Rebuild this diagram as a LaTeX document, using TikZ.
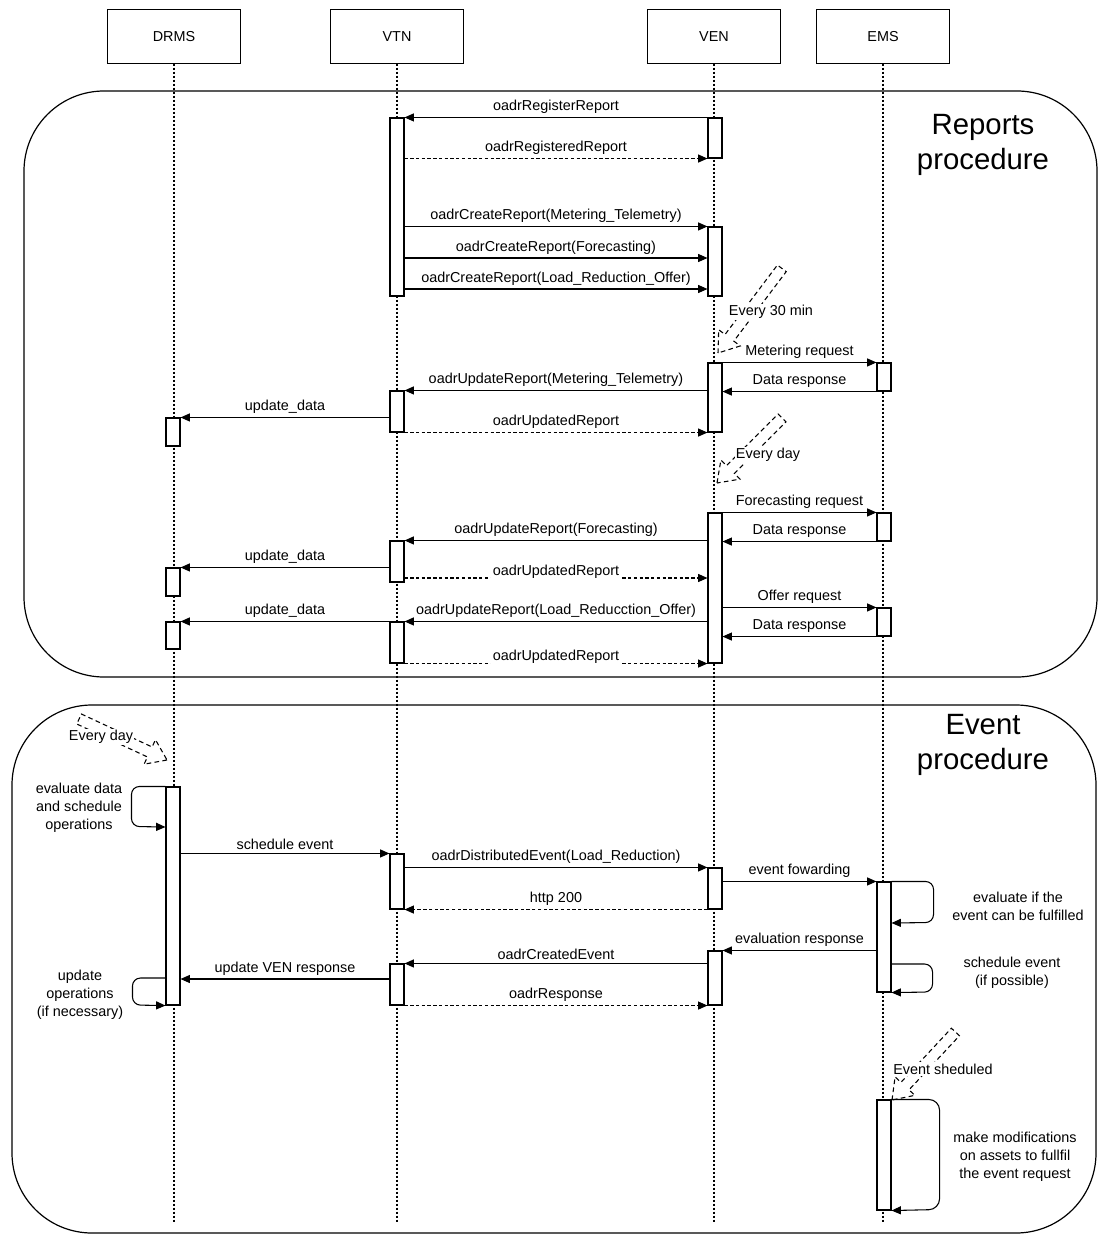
\documentclass[tikz,border=0pt]{standalone}
\usepackage{fontspec}
\setmainfont{Liberation Sans}
\usetikzlibrary{arrows.meta,fit}

\tikzset{
	actor/.style={draw, line width=0.8pt, minimum width=100pt, minimum height=40pt},
	lifeline/.style={line width=0.9pt, dash pattern=on 1.5pt off 1.5pt},
	frame/.style={line width=0.9pt, rounded corners=60pt},
	actbar/.style={draw, fill=white, line width=0.8pt, inner sep=0pt},
	msg/.style={line width=0.8pt, -{Triangle[length=7pt,width=6pt]}},
	ret/.style={msg, dash pattern=on 2.5pt off 1.8pt},
	lbl/.style={midway, above, inner sep=2.5pt},
	lblon/.style={midway, fill=white, inner sep=1pt, yshift=5pt},
	note/.style={fill=white, inner sep=1pt},
	loopnote/.style={align=center},
	title/.style={align=center, font=\fontsize{22}{26}\selectfont}
}

\newcommand{\fatarr}[3]{%
	\draw[line width=0.8pt, dash pattern=on 3.5pt off 2.5pt, shift={#1}, rotate=#2]
	(0,0) -- (-19,13.5) -- (-19,5.5) -- (-#3,5.5) -- (-#3,-5.5) -- (-19,-5.5) -- (-19,-13.5) -- cycle;}

\begin{document}
\begin{tikzpicture}[x=0.75pt, y=-0.75pt, font=\fontsize{10.8}{13.5}\selectfont]
		\useasboundingbox (0,0) rectangle (1100,1234);
		
		\draw[frame] (24,91) rectangle (1097,677);
		\draw[frame] (12,705) rectangle (1096,1233);
		\node[title] (rtitle) at (983,145) {Reports\\procedure};
		\node[title] (etitle) at (983,745) {Event\\procedure};
		
		\node[actor] (drms) at (174,36.5) {DRMS};
		\node[actor] (vtn) at (397,36.5) {VTN};
		\node[actor] (ven) at (714,36.5) {VEN};
		\node[actor] (ems) at (883,36.5) {EMS};
		\draw[lifeline] (drms.south) -- ++(0,1159);
		\draw[lifeline] (vtn.south) -- ++(0,1159);
		\draw[lifeline] (ven.south) -- ++(0,1159);
		\draw[lifeline] (ems.south) -- ++(0,1159);
		
		\node[actbar, fit={(390,118) (404,296)}] (vtnA) {};
		\node[actbar, fit={(390,391) (404,432)}] (vtnB) {};
		\node[actbar, fit={(390,541) (404,582)}] (vtnC) {};
		\node[actbar, fit={(390,622) (404,663)}] (vtnD) {};
		\node[actbar, fit={(390,854) (404,909)}] (vtnE) {};
		\node[actbar, fit={(390,964) (404,1005)}] (vtnF) {};
		\node[actbar, fit={(708,118) (722,158)}] (venA) {};
		\node[actbar, fit={(708,227) (722,296)}] (venB) {};
		\node[actbar, fit={(708,363) (722,432)}] (venC) {};
		\node[actbar, fit={(708,513) (722,663)}] (venD) {};
		\node[actbar, fit={(708,868) (722,909)}] (venE) {};
		\node[actbar, fit={(708,951) (722,1005)}] (venF) {};
		\node[actbar, fit={(877,363) (891,391)}] (emsA) {};
		\node[actbar, fit={(877,513) (891,541)}] (emsB) {};
		\node[actbar, fit={(877,608) (891,636)}] (emsC) {};
		\node[actbar, fit={(877,882) (891,992)}] (emsD) {};
		\node[actbar, fit={(877,1100) (891,1210)}] (emsE) {};
		\node[actbar, fit={(166,418) (180,446)}] (drmsA) {};
		\node[actbar, fit={(166,568) (180,596)}] (drmsB) {};
		\node[actbar, fit={(166,622) (180,649)}] (drmsC) {};
		\node[actbar, fit={(166,787) (180,1005)}] (drmsD) {};
		
		\draw[msg] (venA.north west) -- (vtnA.north east) node[lbl] {oadrRegisterReport};
		\draw[ret] (vtnA.east |- venA.south) -- (venA.south west) node[lbl] {oadrRegisteredReport};
		\draw[msg] (vtnA.east |- venB.north) -- (venB.north west) node[lbl] {oadrCreateReport(Metering\_Telemetry)};
		\draw[msg] (vtnA.east |- 0,258) -- (venB.west |- 0,258) node[lbl] {oadrCreateReport(Forecasting)};
		\draw[msg] (vtnA.east |- 0,289) -- (venB.west |- 0,289) node[lbl] {oadrCreateReport(Load\_Reduction\_Offer)};
		
		\fatarr{(718,353)}{233}{106}
		\node[note] (every30) at (771,312) {Every 30 min};
		\draw[msg] (venC.north east) -- (emsA.north west) node[lbl] {Metering request};
		\draw[msg] (emsA.south west) -- (venC.east |- emsA.south) node[lbl] {Data response};
		\draw[msg] (venC.west |- vtnB.north) -- (vtnB.north east) node[lbl] {oadrUpdateReport(Metering\_Telemetry)};
		\draw[msg] (vtnB.west |- drmsA.north) -- (drmsA.north east) node[lbl] {update\_data};
		\draw[ret] (vtnB.south east) -- (venC.south west) node[lbl] {oadrUpdatedReport};
		
		\fatarr{(717,483)}{225}{92}
		\node[note] (everyday1) at (768,455) {Every day};
		\draw[msg] (venD.north east) -- (emsB.north west) node[lbl] {Forecasting request};
		\draw[msg] (emsB.south west) -- (venD.east |- emsB.south) node[lbl] {Data response};
		\draw[msg] (venD.west |- vtnC.north) -- (vtnC.north east) node[lbl] {oadrUpdateReport(Forecasting)};
		\draw[msg] (vtnC.west |- drmsB.north) -- (drmsB.north east) node[lbl] {update\_data};
		\draw[ret] (vtnC.east |- 0,578) -- (venD.west |- 0,578) node[lblon] {oadrUpdatedReport};
		\draw[msg] (venD.east |- emsC.north) -- (emsC.north west) node[lbl] {Offer request};
		\draw[msg] (emsC.south west) -- (venD.east |- emsC.south) node[lbl] {Data response};
		\draw[msg] (venD.west |- vtnD.north) -- (vtnD.north east) node[lbl] {oadrUpdateReport(Load\_Reducction\_Offer)};
		\draw[msg] (vtnD.west |- drmsC.north) -- (drmsC.north east) node[lbl] {update\_data};
		\draw[ret] (vtnD.south east) -- (venD.south west) node[lblon] {oadrUpdatedReport};
		
		\fatarr{(167,760)}{-25}{97}
		\node[note] (everyday2) at (101,737) {Every day};
		\draw[msg, rounded corners=6pt] (drmsD.north west) -- ++(-34,0) -- ++(0,40) -- (drmsD.west |- 0,827);
		\node[loopnote] (evaldata) at (79,808) {evaluate data\\and schedule\\operations};
		\draw[msg] (drmsD.east |- vtnE.north) -- (vtnE.north west) node[lbl] {schedule event};
		\draw[msg] (vtnE.east |- venE.north) -- (venE.north west) node[lbl] {oadrDistributedEvent(Load\_Reduction)};
		\draw[msg] (venE.east |- emsD.north) -- (emsD.north west) node[lbl] {event fowarding};
		\draw[msg, rounded corners=6pt] (emsD.north east) -- ++(42,0) -- ++(0,41) -- (emsD.east |- 0,923);
		\node[loopnote] (evalif) at (1018,906) {evaluate if the\\event can be fulfilled};
		\draw[ret] (venE.south west) -- (vtnE.south east) node[lbl] {http 200};
		\draw[msg] (emsD.west |- venF.north) -- (venF.north east) node[lbl] {evaluation response};
		\draw[msg] (venF.west |- vtnF.north) -- (vtnF.north east) node[lbl] {oadrCreatedEvent};
		\draw[msg] (vtnF.west |- 0,979) -- (drmsD.east |- 0,979) node[lbl] {update VEN response};
		\draw[msg, rounded corners=6pt] (drmsD.west |- 0,978) -- ++(-33,0) -- ++(0,27) -- (drmsD.south west);
		\node[loopnote] (updops) at (80,995) {update\\operations\\(if necessary)};
		\draw[msg, rounded corners=6pt] (emsD.east |- 0,964) -- ++(41,0) -- ++(0,28) -- (emsD.south east);
		\node[loopnote] (schedif) at (1012,973) {schedule event\\(if possible)};
		\draw[ret] (vtnF.south east) -- (venF.south west) node[lbl] {oadrResponse};
		
		\fatarr{(892,1100)}{227}{93}
		\node[note] (evsched) at (943,1069) {Event sheduled};
		\draw[msg, rounded corners=8pt] (emsE.north east) -- ++(48,0) -- ++(0,110) -- (emsE.south east);
		\node[loopnote] (modify) at (1015,1157) {make modifications\\on assets to fullfil\\the event request};
\end{tikzpicture}
\end{document}
